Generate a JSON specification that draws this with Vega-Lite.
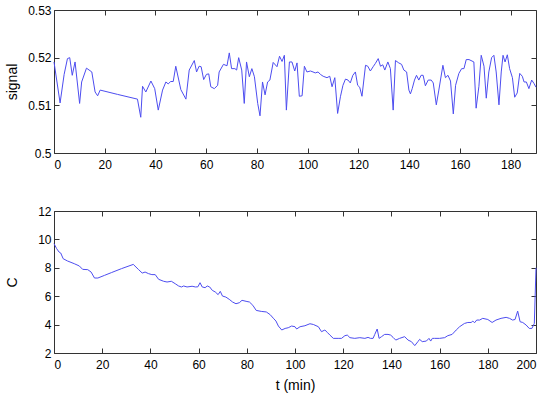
{
  "$schema": "https://vega.github.io/schema/vega-lite/v6.json",
  "padding": {"left": 5, "top": 3, "right": 13, "bottom": 5},
  "spacing": 33,
  "config": {
    "view": {"stroke": "#333333", "strokeWidth": 1},
    "font": "Liberation Sans",
    "axis": {
      "labelFont": "Liberation Sans", "labelFontSize": 12, "labelColor": "#000000",
      "titleFont": "Liberation Sans", "titleFontSize": 14, "titleFontWeight": "normal", "titleColor": "#000000",
      "grid": false, "domain": false, "tickColor": "#333333", "tickSize": -5
    },
    "axisX": {"labelPadding": 11},
    "axisY": {"labelPadding": 8}
  },
  "datasets": {
    "sig": [
      {"t":0,"v":0.5191},{"t":2.4,"v":0.5105},{"t":4.0,"v":0.5165},{"t":5.3,"v":0.5198},{"t":6.2,"v":0.52},{"t":7.2,"v":0.5163},{"t":8.3,"v":0.5191},{"t":10.1,"v":0.5104},{"t":10.9,"v":0.5149},{"t":12.8,"v":0.5178},{"t":14.9,"v":0.517},{"t":16.2,"v":0.5128},{"t":17.2,"v":0.512},{"t":18.2,"v":0.5132},{"t":25,"v":0.5123},{"t":32.9,"v":0.5113},{"t":34.2,"v":0.5075},{"t":34.9,"v":0.514},{"t":36.2,"v":0.5128},{"t":38.2,"v":0.5151},{"t":39.7,"v":0.5135},{"t":41.1,"v":0.509},{"t":42.8,"v":0.5132},{"t":44.1,"v":0.5149},{"t":45,"v":0.5145},{"t":46,"v":0.515},{"t":47,"v":0.515},{"t":48,"v":0.5182},{"t":50,"v":0.5133},{"t":52,"v":0.5113},{"t":53.3,"v":0.5174},{"t":55.3,"v":0.5194},{"t":56.2,"v":0.517},{"t":57.2,"v":0.5182},{"t":58,"v":0.5181},{"t":59,"v":0.5154},{"t":60.1,"v":0.5165},{"t":61,"v":0.5166},{"t":61.8,"v":0.5139},{"t":63.2,"v":0.5135},{"t":64.5,"v":0.5142},{"t":65.1,"v":0.517},{"t":66.8,"v":0.5186},{"t":68.2,"v":0.5183},{"t":69.1,"v":0.521},{"t":70,"v":0.5177},{"t":71.3,"v":0.5177},{"t":72,"v":0.5174},{"t":72.8,"v":0.52},{"t":74,"v":0.5174},{"t":75,"v":0.5104},{"t":75.9,"v":0.5191},{"t":77,"v":0.516},{"t":78,"v":0.5177},{"t":79,"v":0.516},{"t":80.3,"v":0.5104},{"t":81.2,"v":0.5078},{"t":82.2,"v":0.5149},{"t":83.2,"v":0.5122},{"t":84.2,"v":0.5149},{"t":85.1,"v":0.5153},{"t":86.4,"v":0.519},{"t":87.9,"v":0.5181},{"t":88.9,"v":0.5203},{"t":89.9,"v":0.5192},{"t":90.8,"v":0.5205},{"t":91.6,"v":0.509},{"t":92.8,"v":0.5191},{"t":93.8,"v":0.5191},{"t":94.9,"v":0.5172},{"t":95.8,"v":0.5189},{"t":96.7,"v":0.5119},{"t":97.8,"v":0.512},{"t":98.7,"v":0.5182},{"t":99.7,"v":0.517},{"t":101.1,"v":0.5172},{"t":102.1,"v":0.517},{"t":103,"v":0.5168},{"t":104.1,"v":0.517},{"t":105,"v":0.5165},{"t":106.1,"v":0.5161},{"t":107.6,"v":0.5158},{"t":108.7,"v":0.5161},{"t":109.6,"v":0.5139},{"t":110.7,"v":0.5158},{"t":111.8,"v":0.5083},{"t":112.9,"v":0.5118},{"t":113.9,"v":0.5142},{"t":114.9,"v":0.5155},{"t":115.9,"v":0.5153},{"t":116.8,"v":0.5147},{"t":117.8,"v":0.5163},{"t":118.8,"v":0.517},{"t":119.7,"v":0.5142},{"t":120.5,"v":0.5138},{"t":121.4,"v":0.5119},{"t":122.8,"v":0.5184},{"t":123.7,"v":0.5182},{"t":124.7,"v":0.5172},{"t":125.8,"v":0.5181},{"t":126.7,"v":0.5188},{"t":127.8,"v":0.5198},{"t":128.7,"v":0.5182},{"t":129.6,"v":0.5185},{"t":130.4,"v":0.5174},{"t":131.6,"v":0.5191},{"t":132.6,"v":0.5177},{"t":133.7,"v":0.509},{"t":134.6,"v":0.5194},{"t":135.9,"v":0.5189},{"t":137,"v":0.5186},{"t":137.9,"v":0.5174},{"t":139,"v":0.517},{"t":139.9,"v":0.5132},{"t":140.5,"v":0.5124},{"t":141.2,"v":0.5135},{"t":142.1,"v":0.5153},{"t":142.9,"v":0.5163},{"t":143.8,"v":0.5153},{"t":144.7,"v":0.5163},{"t":145.5,"v":0.5163},{"t":146.4,"v":0.5141},{"t":147.5,"v":0.5153},{"t":148.7,"v":0.5153},{"t":149.5,"v":0.5147},{"t":150.7,"v":0.5101},{"t":151.7,"v":0.5132},{"t":153.3,"v":0.5184},{"t":154.3,"v":0.5158},{"t":155.3,"v":0.5163},{"t":156.3,"v":0.5151},{"t":157.4,"v":0.5082},{"t":158.3,"v":0.5142},{"t":159.6,"v":0.5167},{"t":160.7,"v":0.5177},{"t":161.6,"v":0.5177},{"t":162.5,"v":0.5196},{"t":163.6,"v":0.5196},{"t":165.5,"v":0.5191},{"t":166.4,"v":0.5094},{"t":167.5,"v":0.514},{"t":168.4,"v":0.5205},{"t":169.5,"v":0.5182},{"t":170.4,"v":0.5115},{"t":171.4,"v":0.517},{"t":172.5,"v":0.52},{"t":173.4,"v":0.5205},{"t":174.3,"v":0.517},{"t":175.4,"v":0.5101},{"t":176.3,"v":0.517},{"t":177,"v":0.5205},{"t":177.8,"v":0.5191},{"t":178.7,"v":0.5206},{"t":179.6,"v":0.5177},{"t":180.7,"v":0.5158},{"t":181.6,"v":0.5117},{"t":182.6,"v":0.5126},{"t":183.6,"v":0.5167},{"t":184.6,"v":0.5161},{"t":185.3,"v":0.5149},{"t":186.2,"v":0.5149},{"t":187.2,"v":0.5135},{"t":188.3,"v":0.5153},{"t":189.2,"v":0.5146},{"t":190,"v":0.5138}
    ],
    "conc": [
      {"t":0,"c":9.7},{"t":1.1,"c":9.35},{"t":2.1,"c":9.11},{"t":2.8,"c":9.04},{"t":3.8,"c":8.64},{"t":5.6,"c":8.48},{"t":8.4,"c":8.29},{"t":10.5,"c":8.13},{"t":11.9,"c":7.89},{"t":14,"c":7.87},{"t":15.4,"c":7.7},{"t":16.8,"c":7.28},{"t":18.2,"c":7.28},{"t":21,"c":7.47},{"t":23.8,"c":7.66},{"t":28,"c":7.94},{"t":32.9,"c":8.24},{"t":35,"c":7.89},{"t":36.6,"c":7.63},{"t":37.8,"c":7.7},{"t":39.2,"c":7.59},{"t":40.6,"c":7.52},{"t":42,"c":7.52},{"t":43.4,"c":7.19},{"t":45.5,"c":7.05},{"t":46.9,"c":7.0},{"t":48.7,"c":7.05},{"t":50.3,"c":6.88},{"t":51.7,"c":6.72},{"t":52.9,"c":6.65},{"t":53.8,"c":6.72},{"t":55.2,"c":6.65},{"t":57.3,"c":6.7},{"t":58.7,"c":6.65},{"t":59.7,"c":6.66},{"t":60.6,"c":6.95},{"t":61.5,"c":6.65},{"t":62.7,"c":6.6},{"t":63.6,"c":6.72},{"t":64.6,"c":6.65},{"t":65.7,"c":6.41},{"t":66.9,"c":6.3},{"t":68.1,"c":6.11},{"t":69,"c":6.34},{"t":69.9,"c":6.01},{"t":71.3,"c":5.94},{"t":72.7,"c":5.78},{"t":74.1,"c":5.59},{"t":75.5,"c":5.47},{"t":76.9,"c":5.54},{"t":78,"c":5.71},{"t":79.7,"c":5.64},{"t":81.1,"c":5.59},{"t":82.5,"c":5.36},{"t":83.9,"c":5.0},{"t":86,"c":4.93},{"t":88.1,"c":4.89},{"t":89.7,"c":4.7},{"t":91,"c":4.45},{"t":92.1,"c":4.25},{"t":93.1,"c":3.9},{"t":94.5,"c":3.62},{"t":95.9,"c":3.73},{"t":97.2,"c":3.78},{"t":98.6,"c":3.9},{"t":100,"c":3.85},{"t":100.7,"c":3.69},{"t":102.1,"c":3.85},{"t":104.1,"c":3.92},{"t":106.2,"c":4.06},{"t":107.6,"c":4.01},{"t":109.7,"c":3.85},{"t":111,"c":3.5},{"t":112.4,"c":3.62},{"t":113.4,"c":3.45},{"t":114.5,"c":3.26},{"t":115.9,"c":3.03},{"t":117.9,"c":3.03},{"t":119.3,"c":3.03},{"t":120.7,"c":3.22},{"t":121.7,"c":3.26},{"t":122.8,"c":3.08},{"t":124.8,"c":3.03},{"t":126.9,"c":3.08},{"t":129,"c":3.03},{"t":130.3,"c":3.1},{"t":131.3,"c":3.03},{"t":132.4,"c":3.03},{"t":133.1,"c":3.31},{"t":134.1,"c":3.69},{"t":134.9,"c":3.03},{"t":135.9,"c":3.15},{"t":137.2,"c":3.31},{"t":138.6,"c":3.31},{"t":139.7,"c":3.26},{"t":140.7,"c":3.1},{"t":141.8,"c":2.91},{"t":143.4,"c":3.03},{"t":145.5,"c":3.15},{"t":146.9,"c":2.91},{"t":148.3,"c":2.8},{"t":149.7,"c":2.52},{"t":151,"c":2.8},{"t":151.7,"c":2.96},{"t":152.8,"c":2.8},{"t":154.5,"c":2.84},{"t":155.6,"c":3.03},{"t":156.3,"c":2.84},{"t":157,"c":3.03},{"t":157.9,"c":3.03},{"t":160,"c":3.03},{"t":162.1,"c":3.08},{"t":163.4,"c":3.22},{"t":165.2,"c":3.31},{"t":166.9,"c":3.62},{"t":168.3,"c":3.85},{"t":170.3,"c":4.08},{"t":171.7,"c":4.15},{"t":173.1,"c":4.15},{"t":173.8,"c":4.25},{"t":174.5,"c":4.13},{"t":175.4,"c":4.32},{"t":176.6,"c":4.32},{"t":177.9,"c":4.44},{"t":180,"c":4.36},{"t":181.8,"c":4.15},{"t":183.4,"c":4.32},{"t":185.5,"c":4.44},{"t":187.6,"c":4.51},{"t":189,"c":4.44},{"t":190.3,"c":4.32},{"t":191.3,"c":4.36},{"t":192.4,"c":4.95},{"t":193.4,"c":4.2},{"t":194.5,"c":4.15},{"t":195.9,"c":3.97},{"t":197.2,"c":3.73},{"t":198.3,"c":3.73},{"t":199.3,"c":4.08},{"t":200,"c":8.0}
    ]
  },
  "vconcat": [
    {
      "width": 482, "height": 143,
      "data": {"name": "sig"},
      "layer": [
        {
          "mark": {"type": "line", "color": "#4d4df0", "strokeWidth": 1},
          "encoding": {
            "x": {"field": "t", "type": "quantitative", "scale": {"domain": [0, 190], "nice": false},
                  "axis": {"orient": "bottom", "title": null, "values": [0,20,40,60,80,100,120,140,160,180]}},
            "y": {"field": "v", "type": "quantitative", "scale": {"domain": [0.5, 0.53], "nice": false, "zero": false},
                  "axis": {"orient": "left", "title": "signal", "values": [0.5,0.51,0.52,0.53], "format": ".2~f", "titlePadding": 8}}
          }
        },
        {
          "mark": {"type": "line", "opacity": 0},
          "encoding": {
            "x": {"field": "t", "type": "quantitative", "axis": {"orient": "top", "title": null, "labels": false, "values": [0,20,40,60,80,100,120,140,160,180]}},
            "y": {"field": "v", "type": "quantitative", "axis": {"orient": "right", "title": null, "labels": false, "values": [0.5,0.51,0.52,0.53]}}
          }
        }
      ],
      "resolve": {"axis": {"x": "independent", "y": "independent"}}
    },
    {
      "width": 482, "height": 142,
      "data": {"name": "conc"},
      "layer": [
        {
          "mark": {"type": "line", "color": "#4d4df0", "strokeWidth": 1},
          "encoding": {
            "x": {"field": "t", "type": "quantitative", "scale": {"domain": [0, 200], "nice": false},
                  "axis": {"orient": "bottom", "title": "t (min)", "values": [0,20,40,60,80,100,120,140,160,180,200], "titlePadding": 8}},
            "y": {"field": "c", "type": "quantitative", "scale": {"domain": [2, 12], "nice": false, "zero": false},
                  "axis": {"orient": "left", "title": "C", "values": [2,4,6,8,10,12], "titlePadding": 18}}
          }
        },
        {
          "mark": {"type": "line", "opacity": 0},
          "encoding": {
            "x": {"field": "t", "type": "quantitative", "axis": {"orient": "top", "title": null, "labels": false, "values": [0,20,40,60,80,100,120,140,160,180,200]}},
            "y": {"field": "c", "type": "quantitative", "axis": {"orient": "right", "title": null, "labels": false, "values": [2,4,6,8,10,12]}}
          }
        }
      ],
      "resolve": {"axis": {"x": "independent", "y": "independent"}}
    }
  ]
}
